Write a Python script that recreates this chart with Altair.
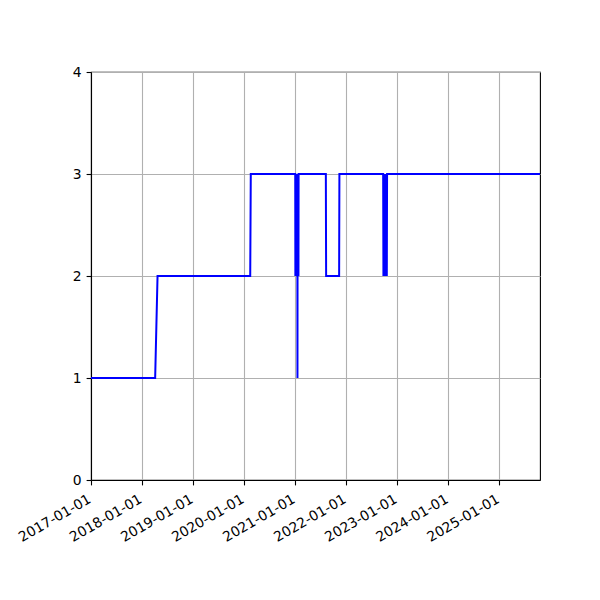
#!/usr/bin/env python3
"""Generate step-like level chart
"""
import altair as alt
import pandas as pd

OUTPUT_FILE = 'out.html'

dates = [
    '2017-01-01', '2018-04-05', '2018-04-22', '2020-02-14', '2020-02-18',
    '2021-01-01', '2021-01-02', '2021-01-04', '2021-01-06', '2021-01-08',
    '2021-01-10', '2021-01-12', '2021-01-14', '2021-01-16', '2021-01-17',
    '2021-01-18', '2021-01-20', '2021-01-22', '2021-01-24', '2021-01-25',
    '2021-08-08', '2021-08-10', '2021-11-11', '2021-11-13',
    '2022-09-22', '2022-09-24', '2022-09-27', '2022-09-30', '2022-10-03',
    '2022-10-06', '2022-10-09', '2022-10-12', '2022-10-15', '2022-10-18',
    '2022-10-20', '2022-10-22', '2025-10-18',
]
levels = [
    1, 1, 2, 2, 3,
    3, 2, 3, 2, 3,
    2, 3, 2, 3, 1,
    3, 2, 3, 2, 3,
    3, 2, 2, 3,
    3, 2, 3, 2, 3,
    2, 3, 2, 3, 2,
    3, 3, 3,
]
year_ticks = [2017, 2018, 2019, 2020, 2021, 2022, 2023, 2024, 2025]
level_ticks = [0, 1, 2, 3, 4]

df = pd.DataFrame({'date': dates, 'level': levels})

line = alt.Chart(df).mark_line(
    color='#0000ff',
    strokeWidth=2,
).encode(
    alt.X(
        'date:T',
        scale=alt.Scale(
            type='utc',
            domain=[alt.DateTime(year=2017, month=1, date=1, utc=True),
                    alt.DateTime(year=2025, month=10, date=18, utc=True)],
        ),
        axis=alt.Axis(
            title=None,
            values=[alt.DateTime(year=y, month=1, date=1, utc=True) for y in year_ticks],
            format='%Y-%m-%d',
            labelAngle=330,
            labelAlign='right',
            labelBaseline='top',
            labelOffset=-5,
            labelPadding=7,
            labelOverlap=False,
            labelBound=False,
        ),
    ),
    alt.Y(
        'level:Q',
        scale=alt.Scale(domain=[0, 4], nice=False, zero=False),
        axis=alt.Axis(title=None, values=level_ticks, format='d'),
    ),
)

chart = line.properties(
    width=449,
    height=408,
    autosize=alt.AutoSizeParams(type='none'),
    padding={'left': 83, 'top': 64, 'right': 52, 'bottom': 112},
).configure_view(
    stroke='black',
    strokeWidth=1.1,
).configure_axis(
    domainColor='black',
    domainWidth=1.1,
    tickColor='black',
    tickWidth=1.1,
    tickSize=4.9,
    labelPadding=4.9,
    labelFont='DejaVu Sans',
    labelFontSize=13.9,
    labelColor='black',
    gridColor='#b0b0b0',
    gridWidth=1.1,
)

chart.save(OUTPUT_FILE, embed_options={'renderer': 'svg', 'actions': False})
